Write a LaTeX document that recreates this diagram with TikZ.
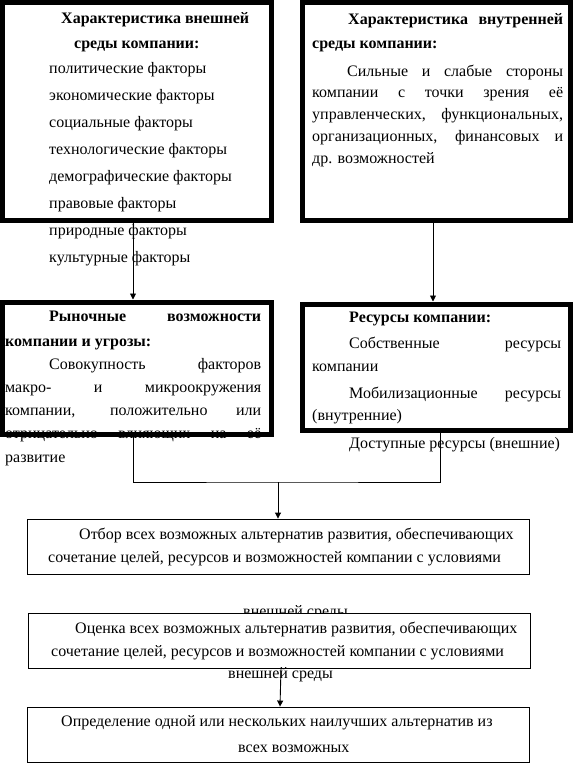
\documentclass[tikz,border=0pt]{standalone}
\usepackage{fontspec}
\setmainfont{Liberation Serif}
\usetikzlibrary{arrows.meta}

\newcommand{\jline}[2]{\makebox[#1pt][s]{#2}}

\begin{document}
\begin{tikzpicture}[x=1pt,y=-1pt,>={Triangle[length=6pt,width=6pt]},
  heavy/.style={draw=black, line width=5pt, rectangle, inner sep=0pt},
  light/.style={draw=black, line width=0.9pt, rectangle, inner sep=0pt, fill=white},
  txt/.style={anchor=base west, inner sep=0pt, font=\fontsize{16}{16}\selectfont},
  ttl/.style={txt, font=\fontsize{16}{16}\selectfont\bfseries},
  sml/.style={txt, font=\fontsize{16}{16}\selectfont},
  link/.style={line width=0.9pt}]
\useasboundingbox (0,0) rectangle (574,764);

% external environment
\node[ttl] (e0) at (61,23) {Характеристика внешней};
\node[ttl] (e1) at (74,48) {среды компании:};
\node[txt] (e2) at (49,73) {политические факторы};
\node[txt] (e3) at (49,100) {экономические факторы};
\node[txt] (e4) at (49,127) {социальные факторы};
\node[txt] (e5) at (49,154) {технологические факторы};
\node[txt] (e6) at (49,181) {демографические факторы};
\node[txt] (e7) at (49,208) {правовые факторы};
\node[txt] (e8) at (49,235) {природные факторы};
\node[txt] (e9) at (49,262) {культурные факторы};
\node[heavy, minimum width=269pt, minimum height=218pt] (ext) at (137,111.5) {};

% internal environment
\node[ttl] (i0) at (348,24) {\jline{215}{Характеристика внутренней}};
\node[ttl] (i1) at (312,48) {среды компании:};
\node[txt] (i2) at (347,76) {\jline{216}{Сильные и слабые стороны}};
\node[txt] (i3) at (312,97) {\jline{251}{компании с точки зрения её}};
\node[txt] (i4) at (312,119) {\jline{251}{управленческих, функциональных,}};
\node[txt] (i5) at (312,141) {\jline{251}{организационных, финансовых и}};
\node[txt] (i6) at (312,163) {др. возможностей};
\node[heavy, minimum width=268pt, minimum height=218pt] (int) at (436.5,111.5) {};

% market
\node[ttl] (m0) at (49,321) {\jline{212}{Рыночные возможности}};
\node[ttl] (m1) at (5,346) {компании и угрозы:};
\node[txt] (m2) at (49,369) {\jline{212}{Совокупность факторов}};
\node[txt] (m3) at (5,392) {\jline{256}{макро- и микроокружения}};
\node[txt] (m4) at (5,415) {\jline{256}{компании, положительно или}};
\node[txt] (m5) at (5,438) {\jline{256}{отрицательно влияющих на её}};
\node[txt] (m6) at (5,462) {развитие};
\node[heavy, minimum width=269pt, minimum height=132pt] (mkt) at (137,368) {};

% resources
\node[ttl] (r0) at (349,322) {Ресурсы компании:};
\node[txt] (r1) at (349,348) {\jline{212}{Собственные ресурсы}};
\node[txt] (r2) at (312,371) {компании};
\node[txt] (r3) at (349,398) {\jline{212}{Мобилизационные ресурсы}};
\node[txt] (r4) at (312,420) {(внутренние)};
\node[txt] (r5) at (349,448) {Доступные ресурсы (внешние)};
\node[heavy, minimum width=268pt, minimum height=126pt] (res) at (436.5,367) {};

% selection
\node[light, fill=none, minimum width=502pt, minimum height=55pt] (sel) at (278,546.5) {};
\node[sml] (s0) at (79,539) {Отбор всех возможных альтернатив развития, обеспечивающих};
\node[sml] (s1) at (48,562) {сочетание целей, ресурсов и возможностей компании с условиями};
\node[sml] (s2) at (243,616) {внешней среды};

% evaluation
\node[light, minimum width=502pt, minimum height=55pt] (eval) at (279,640.5) {};
\node[sml] (v0) at (75,633) {Оценка всех возможных альтернатив развития, обеспечивающих};
\node[sml] (v1) at (51,656) {сочетание целей, ресурсов и возможностей компании с условиями};
\node[sml] (v2) at (228,678) {внешней среды};

% best choice
\node[light, minimum width=502pt, minimum height=55pt] (best) at (278,734.5) {};
\node[sml] (b0) at (61,726) {Определение одной или нескольких наилучших альтернатив из};
\node[sml] (b1) at (238,752) {всех возможных};

% connectors
\coordinate (join) at (278,482);
\draw[link,->] ([xshift=-4pt]ext.south) -- ([xshift=-4pt]mkt.north);
\draw[link,->] ([xshift=-3.5pt]int.south) -- ([xshift=-3.5pt]res.north);
\draw[link] ([xshift=-4pt]mkt.south) |- (join) -| ([xshift=3.5pt]res.south);
\draw[link,->] (join) -- (sel.north);
\draw[link,->] ([xshift=2pt]eval.south) -- ([xshift=2pt]best.north);
\end{tikzpicture}
\end{document}
